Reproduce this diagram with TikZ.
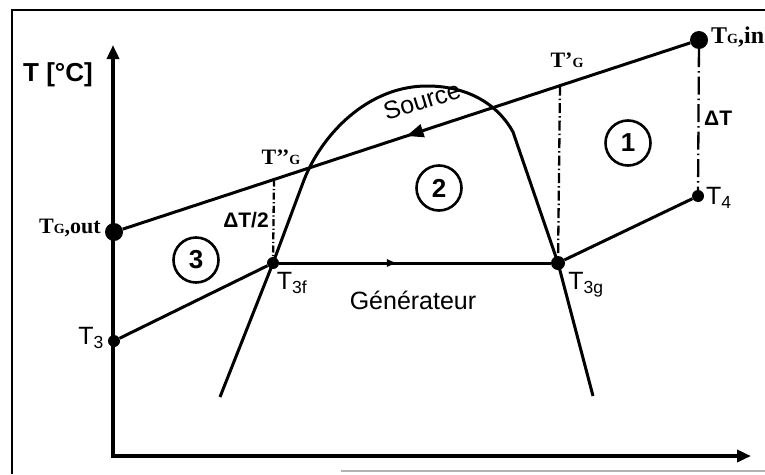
\documentclass[tikz,border=0pt]{standalone}
\usepackage{fontspec}
\setmainfont{Liberation Sans}
\newfontfamily\tms{Liberation Serif}
\usetikzlibrary{arrows.meta,decorations.markings}
\newcommand\smallG{{\fontsize{14}{14}\selectfont G}}
\begin{document}
\begin{tikzpicture}[x=1pt,y=-1pt,
  ln/.style={line width=3pt},
  axisln/.style={line width=3.8pt,{Triangle[length=14pt,width=12pt]}-{Triangle[length=14pt,width=12pt]}},
  bigdot/.style={circle,fill,inner sep=0pt,minimum size=18pt},
  smalldot/.style={circle,fill,inner sep=0pt,minimum size=12pt},
  num/.style={circle,draw,line width=2.6pt,minimum size=45pt,inner sep=0pt,font=\bfseries\fontsize{26}{26}\selectfont},
  lbl/.style={font=\fontsize{25}{25}\selectfont,inner sep=0pt},
  blbl/.style={font=\tms\bfseries\fontsize{22}{22}\selectfont,inner sep=0pt},
  dlbl/.style={font=\bfseries\fontsize{21}{21}\selectfont,inner sep=0pt},
  guidelong/.style={line width=2.3pt,dash pattern=on 18pt off 4pt on 1.5pt off 4pt},
  guidemid/.style={line width=2.3pt,dash pattern=on 10pt off 3pt on 1.5pt off 3pt},
  guideshort/.style={line width=2.3pt,dash pattern=on 7pt off 2.5pt on 1.2pt off 2.5pt},
  midarrow/.style={postaction={decorate},decoration={markings,mark=at position #1 with {\arrow{Triangle[length=17pt,width=13pt]}}}},
  smallarrow/.style={postaction={decorate},decoration={markings,mark=at position #1 with {\arrow{Triangle[length=9pt,width=7pt]}}}},
]
\useasboundingbox (0,0) rectangle (765,474);
% frame
\draw[line width=2.6pt] (12,474) -- (12,10) -- (765,10);
\draw[gray!60,line width=1.2pt] (341,471) -- (765,471);
% axes
\coordinate (O) at (113,456);
\coordinate (ytip) at (113,45);
\coordinate (xtip) at (751,456);
\draw[axisln] (ytip) -- (O) -- (xtip);
% points
\node[bigdot] (Gin) at (699,40) {};
\node[bigdot] (Gout) at (114,232) {};
\node[smalldot] (T4) at (698,196) {};
\node[smalldot] (T3) at (114,341) {};
\node[smalldot] (T3f) at (273,263) {};
\node[smalldot,minimum size=14pt] (T3g) at (558,263) {};
\coordinate (Gp) at (560,85.6);
\coordinate (Gpp) at (274,179.5);
% dome
\draw[ln] (220,397) -- (T3f.center) -- (304,180) .. controls (322,134) and (368,86) .. (427,86) .. controls (472,86) and (500,108) .. (513,132) -- (T3g.center) -- (593,396);
% source line
\draw[ln,midarrow=0.5] (Gin) -- (Gout);
% working fluid
\draw[ln] (T3) -- (T3f);
\draw[ln,smallarrow=0.43] (T3f) -- (T3g);
\draw[ln] (T3g) -- (T4);
% guides
\draw[guidelong] (Gin) -- (T4);
\draw[guidemid] (Gp) -- (T3g);
\draw[guideshort] (Gpp) -- (T3f);
% circled numbers
\node[num] (c1) at (628,143) {1};
\node[num] (c2) at (439,188) {2};
\node[num] (c3) at (196,260) {3};
% labels
\node[lbl,font=\bfseries\fontsize{26}{26}\selectfont] (ylab) at (58,75) {T [°C]};
\node[blbl,anchor=west,font=\tms\bfseries\fontsize{24}{24}\selectfont] (lGin) at (711,37) {T\smallG,in};
\node[blbl,anchor=east] (lGout) at (101,228) {T\smallG,out};
\node[blbl] (lGp) at (567,60) {T’\smallG};
\node[blbl] (lGpp) at (281,157) {T’’\smallG};
\node[dlbl,anchor=west] (lDT) at (704,118) {ΔT};
\node[dlbl] (lDT2) at (246,220) {ΔT/2};
\node[lbl,anchor=west] (lT4) at (706,198) {T\textsubscript{4}};
\node[lbl,anchor=east] (lT3) at (104,338) {T\textsubscript{3}};
\node[lbl] (lT3f) at (292,283) {T\textsubscript{3f}};
\node[lbl] (lT3g) at (586,285) {T\textsubscript{3g}};
\node[lbl] (lgen) at (413,300) {Générateur};
\node[lbl,rotate=17] (lsrc) at (422,101) {Source};
\end{tikzpicture}
\end{document}
